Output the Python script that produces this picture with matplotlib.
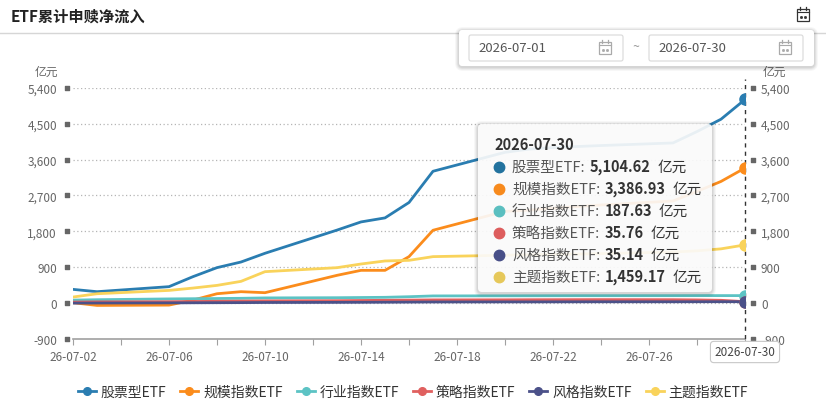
import matplotlib
matplotlib.use("Agg")
import matplotlib.pyplot as plt
from matplotlib.patches import FancyBboxPatch, Rectangle
from matplotlib.lines import Line2D
from matplotlib.transforms import blended_transform_factory

plt.rcParams['font.family'] = ['Noto Sans CJK SC', 'DejaVu Sans']

# 交易日（7月）
days = [2, 3, 6, 7, 8, 9, 10, 13, 14, 15, 16, 17, 20, 21, 22, 23, 24, 27, 28, 29, 30]
tick_days = list(range(2, 31, 2))
label_days = list(range(2, 29, 4))   # 26-07-30 被十字准线标签挡住

names = ['股票型ETF', '规模指数ETF', '行业指数ETF', '策略指数ETF', '风格指数ETF', '主题指数ETF']
colors = ['#2a7db1', '#fb8c1c', '#5cc3c4', '#e0605f', '#4b5189', '#f9d35b']
dot_colors = ['#22729e', '#f78a1d', '#5bbfc0', '#dd5d5d', '#484f88', '#e6c85a']

stock = [344, 286, 412, 663, 889, 1030, 1249, 1830, 2035, 2136, 2522, 3305,
         3780, 3860, 3900, 3925, 3950, 4015, 4300, 4610, 5104.62]
scale = [10, -58, -50, 75, 235, 286, 261, 696, 821, 821, 1165, 1826,
         2300, 2330, 2380, 2420, 2460, 2560, 2800, 3050, 3386.93]
industry = [75, 85, 105, 110, 115, 120, 130, 135, 140, 145, 160, 180,
            182, 183, 184, 185, 185, 186, 187, 188, 187.63]
strategy = [25, 30, 35, 40, 45, 50, 55, 60, 65, 70, 75, 80,
            82, 84, 85, 86, 87, 85, 80, 70, 35.76]
style = [0, 2, 5, 8, 10, 12, 15, 18, 20, 22, 25, 28,
         30, 30, 31, 32, 33, 33, 34, 35, 35.14]
theme = [152, 235, 318, 377, 444, 545, 788, 888, 980, 1056, 1072, 1165,
         1200, 1210, 1220, 1230, 1240, 1280, 1310, 1360, 1459.17]
series = [stock, scale, industry, strategy, style, theme]
last_values = ['5,104.62', '3,386.93', '187.63', '35.76', '35.14', '1,459.17']

yticks = [-900, 0, 900, 1800, 2700, 3600, 4500, 5400]

W, H = 826, 410
fig = plt.figure(figsize=(W / 100, H / 100), dpi=100)

# 绘图区（像素位置换算）
ax = fig.add_axes([73 / W, 1 - 340 / H, 672 / W, (340 - 88.7) / H])
ax.set_xlim(2, 30)
ax.set_ylim(-900, 5400)

for y in yticks[1:]:
    ax.axhline(y, color='#b5b5b5', lw=0.9, ls=(0, (1, 2)), zorder=1)

for vals, c in zip(series, colors):
    ax.plot(days, vals, color=c, lw=2.0, solid_capstyle='round', zorder=3)
for vals, c in zip(series, colors):
    ax.plot(days[-1], vals[-1], 'o', color=c, ms=8, zorder=5)

for s in ['top', 'left', 'right']:
    ax.spines[s].set_visible(False)
ax.spines['bottom'].set_color('#a0a0a0')
ax.spines['bottom'].set_linewidth(1.2)

ax.set_xticks(tick_days)
ax.set_xticklabels([f'26-07-{d:02d}' if d in label_days else '' for d in tick_days])
ax.tick_params(axis='x', length=4, color='#a0a0a0', labelsize=8.5,
               labelcolor='#666666', pad=4)
ax.set_yticks(yticks)
ax.set_yticklabels([f'{v:,}' for v in yticks])
ax.tick_params(axis='y', length=0, labelsize=8.5, labelcolor='#666666',
               pad=11.5, labelleft=True, labelright=True)

# 轴上小方块
tr = blended_transform_factory(ax.transAxes, ax.transData)
ax.scatter([-6 / 672] * len(yticks), yticks, marker='s', s=5, color='#666666',
           transform=tr, clip_on=False, zorder=6)
ax.scatter([1 + 8 / 672] * len(yticks), yticks, marker='s', s=5, color='#666666',
           transform=tr, clip_on=False, zorder=6)

# 十字准线
ax.axvline(30, ymin=-0.032, ymax=1.035, color='#333333', lw=1, ls=(0, (3, 3)),
           clip_on=False, zorder=4)

# 覆盖层：像素坐标
ov = fig.add_axes([0, 0, 1, 1], zorder=10)
ov.set_xlim(0, W)
ov.set_ylim(H, 0)
ov.axis('off')
ov.patch.set_alpha(0)

ov.text(58, 72, '亿元', ha='right', va='center', fontsize=8.5, color='#666666')
ov.text(763, 72, '亿元', ha='left', va='center', fontsize=8.5, color='#666666')
ov.text(745, 353, '2026-07-30', ha='center', va='center', fontsize=8.5,
        color='#444444', zorder=10,
        bbox=dict(boxstyle='round,pad=0.35,rounding_size=0.3', fc='white',
                  ec='#c8c8c8', lw=0.8))


def box(x0, y0, x1, y1, fc='white', ec='none', lw=0.8, r=3, z=8, alpha=1.0):
    p = FancyBboxPatch((x0, y0), x1 - x0, y1 - y0,
                       boxstyle=f'round,pad=0,rounding_size={r}',
                       fc=fc, ec=ec, lw=lw, zorder=z, alpha=alpha)
    ov.add_patch(p)


def shadow(x0, y0, x1, y1, z=7):
    for i, a in enumerate([0.05, 0.05, 0.04, 0.03]):
        g = i + 1
        box(x0 - g, y0 - g + 1, x1 + g, y1 + g + 1, fc='#000000', r=4 + g, z=z, alpha=a)


# 提示框
shadow(478, 125, 712, 293)
box(478, 125, 712, 293, fc='white', r=4, z=8, alpha=0.9)
ov.text(494, 145, '2026-07-30', ha='left', va='center', fontsize=10.5,
        fontweight='bold', color='#333333', zorder=9)
row_y = [168, 190, 212, 234, 256, 278]
for name, c, val, yy in zip(names, dot_colors, last_values, row_y):
    ov.plot([499], [yy], 'o', ms=7.5, color=c, zorder=9)
    t1 = ov.text(512, yy, name + ':', ha='left', va='center',
                 fontsize=10.5, color='#555555', zorder=9)
    t2 = ov.annotate(val, xy=(1, 0), xycoords=t1, xytext=(3, 0),
                     textcoords='offset points', ha='left', va='bottom',
                     fontsize=10.5, fontweight='bold', color='#333333',
                     annotation_clip=False, zorder=9)
    ov.annotate('亿元', xy=(1, 0), xycoords=t2, xytext=(5, 0),
                textcoords='offset points', ha='left', va='bottom',
                fontsize=10.5, color='#333333', annotation_clip=False, zorder=9)

# 标题栏
ov.text(11, 17, 'ETF累计申赎净流入', ha='left', va='center', fontsize=11,
        fontweight='bold', color='#222222')
ov.plot([0, W], [34, 34], color='#d6d6d6', lw=1)


def calendar(cx, cy, size, color, z=12):
    w = size
    h = size * 1.05
    ov.add_patch(Rectangle((cx - w / 2, cy - h / 2), w, h, fill=False, ec=color,
                           lw=0.9, zorder=z))
    ov.plot([cx - w / 2, cx + w / 2], [cy - h / 2 + 3] * 2, color=color, lw=0.8, zorder=z)
    for dx in (-w / 4, w / 4):
        ov.plot([cx + dx] * 2, [cy - h / 2 - 2, cy - h / 2 + 1], color=color,
                lw=0.9, zorder=z)
    for dx in (-w / 6, w / 6):
        ov.plot([cx + dx], [cy + 1.5], 's', ms=1, color=color, zorder=z)


calendar(803, 16, 12, '#333333')

# 日期选择弹框
shadow(459, 31, 814, 67, z=10)
box(459, 31, 814, 67, fc='white', r=3, z=11)
box(469, 36, 623, 62, fc='white', ec='#d9d9d9', r=2, z=12)
box(649, 36, 803, 62, fc='white', ec='#d9d9d9', r=2, z=12)
ov.text(478, 49, '2026-07-01', ha='left', va='center', fontsize=9.5,
        color='#555555', zorder=13)
ov.text(658, 49, '2026-07-30', ha='left', va='center', fontsize=9.5,
        color='#555555', zorder=13)
ov.text(636, 48, '~', ha='center', va='center', fontsize=9,
        color='#999999', zorder=13)
calendar(605, 49, 12, '#aaaaaa', z=13)
calendar(785, 49, 12, '#aaaaaa', z=13)

# 图例
handles = [Line2D([0], [0], color=c, lw=2, marker='o', ms=5.5) for c in colors]
fig.legend(handles, names, loc='center', bbox_to_anchor=(0.5, 1 - 393 / H), ncol=6,
           frameon=False, fontsize=10, handlelength=1.3, handletextpad=0.35,
           columnspacing=1.0, labelcolor='#333333')

fig.savefig('out.png', dpi=100)
